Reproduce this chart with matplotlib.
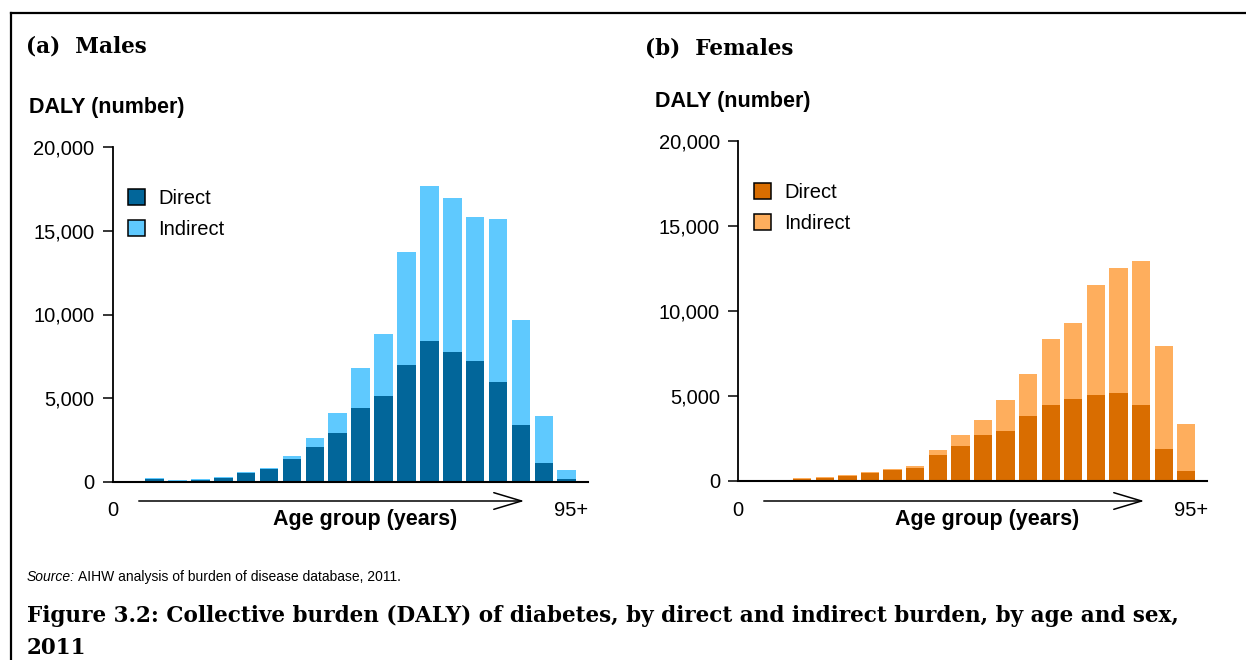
import matplotlib
matplotlib.use('Agg')
import matplotlib.pyplot as plt
from matplotlib.patches import Patch, FancyArrowPatch
from matplotlib.lines import Line2D

# age groups (0-4 ... 95+)
age_groups = ['0–4', '5–9', '10–14', '15–19', '20–24', '25–29', '30–34', '35–39',
              '40–44', '45–49', '50–54', '55–59', '60–64', '65–69', '70–74',
              '75–79', '80–84', '85–89', '90–94', '95+']

# DALY, males
male_direct = [0, 140, 60, 100, 240, 520, 780, 1360, 2070, 2910, 4410, 5130,
               6980, 8420, 7760, 7220, 5960, 3390, 1120, 160]
male_total = [0, 220, 100, 160, 300, 580, 840, 1540, 2610, 4110, 6800, 8840,
              13740, 17690, 16970, 15840, 15720, 9670, 3930, 700]

# DALY, females
female_direct = [0, 0, 100, 160, 290, 490, 650, 780, 1530, 2060, 2700, 2940,
                 3820, 4470, 4820, 5050, 5170, 4470, 1880, 590]
female_total = [0, 0, 180, 240, 350, 550, 710, 860, 1820, 2700, 3590, 4760,
                6290, 8350, 9290, 11520, 12520, 12930, 7930, 3350]

male_indirect = [t - d for t, d in zip(male_total, male_direct)]
female_indirect = [t - d for t, d in zip(female_total, female_direct)]

yticks = [0, 5000, 10000, 15000, 20000]
ytick_labels = ['0', '5,000', '10,000', '15,000', '20,000']

W, H = 1246, 660
fig = plt.figure(figsize=(W / 100, H / 100), dpi=100)


def fx(x):
    return x / W


def fy(y):
    return 1 - y / H


sans = 'Liberation Sans'
serif = 'DejaVu Serif'
fs = 14.5    # regular sans text
fsb = 15.5   # bold sans text


def panel(rect, direct, indirect, c_dir, c_ind, title, title_xy, ylab_xy,
          leg_xy, zero_x, plus_x, arrow_x, xlab_x):
    left, top, right, bottom = rect
    ax = fig.add_axes([fx(left), fy(bottom), fx(right - left), (bottom - top) / H])
    x = list(range(len(age_groups)))
    ax.bar(x, direct, width=0.81, color=c_dir, linewidth=0)
    ax.bar(x, indirect, bottom=direct, width=0.81, color=c_ind, linewidth=0)
    ax.set_xlim(-0.83, 19.93)
    ax.set_ylim(0, 20000)
    ax.set_yticks(yticks)
    ax.set_yticklabels(ytick_labels, fontsize=fs, family=sans)
    ax.set_xticks([])
    ax.tick_params(axis='y', direction='out', length=7.2, width=1.1, pad=6)
    for s in ['top', 'right']:
        ax.spines[s].set_visible(False)
    ax.spines['left'].set_linewidth(1.3)
    ax.spines['bottom'].set_linewidth(1.5)

    handles = [Patch(facecolor=c_dir, edgecolor='black', linewidth=1.1),
               Patch(facecolor=c_ind, edgecolor='black', linewidth=1.1)]
    ax.legend(handles, ['Direct', 'Indirect'], loc='upper left',
              bbox_to_anchor=(fx(leg_xy[0]), fy(leg_xy[1])),
              bbox_transform=fig.transFigure, frameon=False,
              prop={'family': sans, 'size': fs}, handlelength=0.85,
              handleheight=0.85, handletextpad=0.65, labelspacing=0.6,
              borderpad=0, borderaxespad=0)

    fig.text(fx(title_xy[0]), fy(title_xy[1]), title, family=serif,
             fontweight='bold', fontsize=15.5, va='center', ha='left')
    fig.text(fx(ylab_xy[0]), fy(ylab_xy[1]), 'DALY (number)', family=sans,
             fontweight='bold', fontsize=fsb, va='center', ha='left')
    fig.text(fx(zero_x), fy(510), '0', family=sans, fontsize=fs,
             ha='center', va='center')
    fig.text(fx(plus_x), fy(510), '95+', family=sans, fontsize=fs,
             ha='center', va='center')
    arr = FancyArrowPatch((fx(arrow_x[0]), fy(501)), (fx(arrow_x[1]), fy(501)),
                          transform=fig.transFigure,
                          arrowstyle='->,head_length=1.0,head_width=0.3',
                          mutation_scale=20, linewidth=1.1, color='black')
    fig.patches.append(arr)
    fig.text(fx(xlab_x), fy(519), 'Age group (years)', family=sans,
             fontweight='bold', fontsize=fsb, ha='center', va='center')
    return ax


panel((112.7, 147.3, 588, 481.7), male_direct, male_indirect,
      '#02669A', '#5FC9FE', '(a)  Males', (26, 47), (29, 108),
      (128, 189), 113, 571, (136, 527), 365)
panel((738.3, 140.7, 1207.3, 481), female_direct, female_indirect,
      '#D96D00', '#FEAE5D', '(b)  Females', (645, 49), (655, 101),
      (754, 183), 738, 1191, (761, 1147), 987)

# outer frame
fig.add_artist(Line2D([fx(11), 1], [fy(12.7), fy(12.7)], color='black',
                      linewidth=1.6, transform=fig.transFigure))
fig.add_artist(Line2D([fx(11), fx(11)], [fy(12.7), 0], color='black',
                      linewidth=1.6, transform=fig.transFigure))

# source note
renderer = fig.canvas.get_renderer()
t1 = fig.text(fx(27), fy(577), 'Source:', family=sans, style='italic',
              fontsize=10, va='center', ha='left')
bb = t1.get_window_extent(renderer)
fig.text(fx(bb.x1 + 3), fy(577), 'AIHW analysis of burden of disease database, 2011.',
         family=sans, fontsize=10, va='center', ha='left')

fig.text(fx(27), fy(622), 'Figure 3.2: Collective burden (DALY) of diabetes, by direct '
         'and indirect burden, by age and sex,', family=serif, fontweight='bold',
         fontsize=15.5, va='baseline', ha='left')
fig.text(fx(27), fy(654), '2011', family=serif, fontweight='bold',
         fontsize=15.5, va='baseline', ha='left')

fig.savefig('out.png', dpi=100)
